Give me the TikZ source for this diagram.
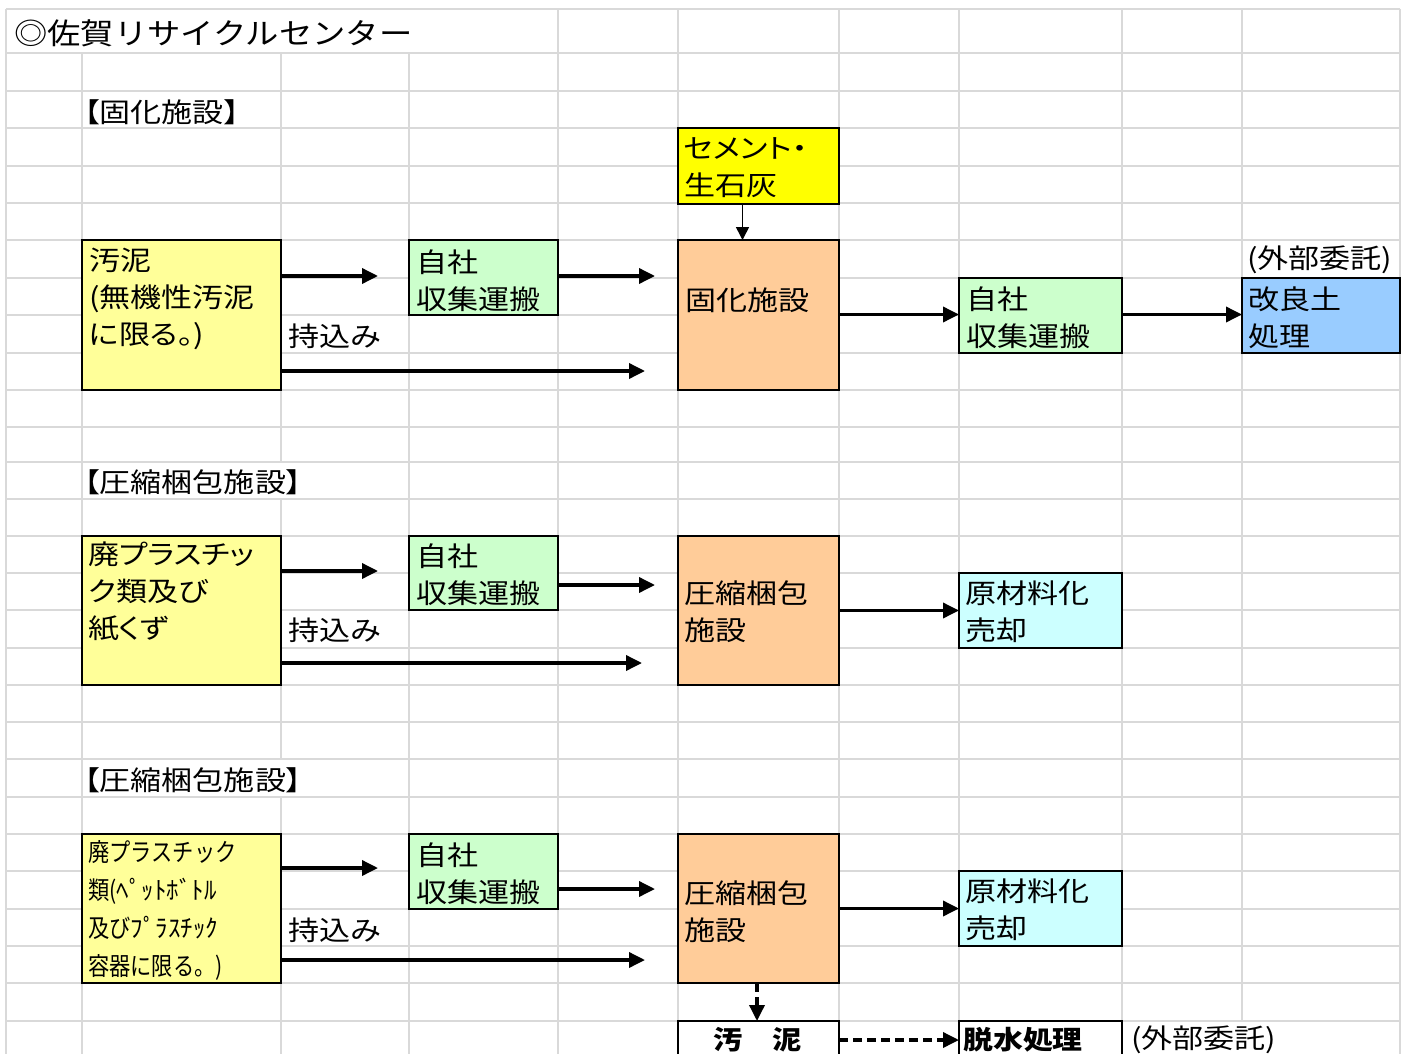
\documentclass[tikz,border=0pt]{standalone}
\usepackage{fontspec}
\setmainfont{Noto Sans CJK JP}[FakeStretch=1.13]
\newfontfamily\pfont{Noto Sans CJK JP}[FakeStretch=1.15, RawFeature=+palt]
\newfontfamily\nfont{Noto Sans CJK JP}[FakeStretch=0.85]
\newfontfamily\hfont{Noto Sans CJK JP}[FakeStretch=1.0]
\usetikzlibrary{arrows.meta}
\definecolor{gridc}{HTML}{D9D9D9}
\definecolor{lyel}{HTML}{FFFF99}
\definecolor{lgrn}{HTML}{CCFFCC}
\definecolor{yel}{HTML}{FFFF00}
\definecolor{ora}{HTML}{FFCC99}
\definecolor{blu}{HTML}{99CCFF}
\definecolor{cya}{HTML}{CCFFFF}
\begin{document}
\begin{tikzpicture}[x=1pt, y=-1pt,
  box/.style={draw=black, line width=2.5pt, anchor=north west, inner sep=0pt, outer sep=0pt},
  txt/.style={inner sep=0pt, anchor=west, align=left, font=\pfont\fontsize{27}{37}\selectfont},
  ntxt/.style={inner sep=0pt, anchor=west, align=left, font=\nfont\fontsize{25}{38}\selectfont},
  arr/.style={line width=3.5pt, -{Triangle[length=16pt,width=15pt]}},
  thinarr/.style={line width=1.6pt, -{Triangle[length=13pt,width=13pt]}},
  darr/.style={arr, dash pattern=on 9pt off 5pt},
  gridl/.style={line width=2.5pt, color=gridc}]
\useasboundingbox (0,0) rectangle (1406,1054);
\fill[white] (0,0) rectangle (1406,1054);
% grid
\foreach \y in {9,53,91,128,166,203,240,278,315,353,390,427,462,499,536,573,610,648,685,722,759,797,834,871,909,946,983,1021}
  \draw[gridl] (6,\y) -- (1400,\y);
\foreach \x in {6,558,678,839,959,1122,1400}
  \draw[gridl] (\x,9) -- (\x,1054);
\foreach \x in {82,409}
  \draw[gridl] (\x,53) -- (\x,1054);
\draw[gridl] (281,53) -- (281,462) (281,499) -- (281,759) (281,797) -- (281,1054);
\draw[gridl] (1242,9) -- (1242,1021);

% titles
\node[inner sep=0pt, anchor=west, font=\fontsize{29.5}{34}\selectfont] (title) at (14,33) {◎佐賀リサイクルセンター};
\node[txt] (sec1) at (84,112) {【固化施設】};
\node[txt] (sec2) at (84,482) {【圧縮梱包施設】};
\node[txt] (sec3) at (84,780) {【圧縮梱包施設】};

% section 1 boxes
\node[box, fill=lyel, minimum width=199, minimum height=150] (sludge1) at (82,240) {};
\node[box, fill=lgrn, minimum width=149, minimum height=75] (jisha1) at (409,240) {};
\node[box, fill=yel, minimum width=161, minimum height=76] (cement) at (678,128) {};
\node[box, fill=ora, minimum width=161, minimum height=150] (koka) at (678,240) {};
\node[box, fill=lgrn, minimum width=163, minimum height=75] (jisha1b) at (959,278) {};
\node[box, fill=blu, minimum width=158, minimum height=75] (kairyo) at (1242,278) {};

% section 2 boxes
\node[box, fill=lyel, minimum width=199, minimum height=149] (plast2) at (82,536) {};
\node[box, fill=lgrn, minimum width=149, minimum height=74] (jisha2) at (409,536) {};
\node[box, fill=ora, minimum width=161, minimum height=149] (assh2) at (678,536) {};
\node[box, fill=cya, minimum width=163, minimum height=75] (gen2) at (959,573) {};

% section 3 boxes
\node[box, fill=lyel, minimum width=199, minimum height=149] (plast3) at (82,834) {};
\node[box, fill=lgrn, minimum width=149, minimum height=75] (jisha3) at (409,834) {};
\node[box, fill=ora, minimum width=161, minimum height=149] (assh3) at (678,834) {};
\node[box, fill=cya, minimum width=163, minimum height=75] (gen3) at (959,871) {};
\node[box, fill=white, minimum width=161, minimum height=45] (osui) at (678,1021) {};
\node[box, fill=white, minimum width=163, minimum height=45] (dassui) at (959,1021) {};

% texts section 1
\node[txt] (sludge1t) at (89,298.5) {汚泥\\(無機性汚泥\\に限る。)};
\node[txt] (jisha1t) at (416,280.5) {自社\\収集運搬};
\node[txt] (cementt) at (684,167.5) {セメント・\\生石灰};
\node[txt] (kokat) at (685,300) {固化施設};
\node[txt] (jisha1bt) at (966,317.5) {自社\\収集運搬};
\node[txt] (kairyot) at (1248,318) {改良土\\処理};
\node[txt] (gaibu1) at (1247,260) {(外部委託)};
\node[txt] (mochi1) at (288,336) {持込み};

% texts section 2
\node[txt] (plast2t) at (88,592) {廃プラスチッ\\ク類及び\\紙くず};
\node[txt] (jisha2t) at (416,574.5) {自社\\収集運搬};
\node[txt] (mochi2) at (288,630) {持込み};
\node[txt] (assh2t) at (684,612) {圧縮梱包\\施設};
\node[txt] (gen2t) at (965,612) {原材料化\\売却};

% texts section 3
\node[ntxt] (plast3t) at (88,910) {廃プラスチック\\類({\hfont ﾍﾟｯﾄﾎﾞﾄﾙ}\\及び{\hfont ﾌﾟﾗｽﾁｯｸ}\\容器に限る。)};
\node[txt] (jisha3t) at (416,873.5) {自社\\収集運搬};
\node[txt] (mochi3) at (288,930) {持込み};
\node[txt] (assh3t) at (684,911.5) {圧縮梱包\\施設};
\node[txt] (gen3t) at (965,910) {原材料化\\売却};
\node[txt, anchor=center, font=\bfseries\fontsize{26}{37}\selectfont] (osuit) at (758,1040) {汚　泥};
\node[txt, font=\bfseries\pfont\fontsize{26}{37}\selectfont] (dassuit) at (963,1040) {脱水処理};
\node[txt] (gaibu2) at (1131,1040) {(外部委託)};

% free arrow ends
\coordinate (c1) at (378,276);
\coordinate (c2) at (655,276);
\coordinate (c3) at (645,371);
\coordinate (c4) at (378,571);
\coordinate (c5) at (655,585);
\coordinate (c6) at (642,663);
\coordinate (c7) at (378,868);
\coordinate (c8) at (655,889);
\coordinate (c9) at (645,960);

% arrows section 1
\draw[arr] (sludge1.east |- c1) -- (c1);
\draw[arr] (jisha1.east |- c2) -- (c2);
\draw[arr] (sludge1.east |- c3) -- (c3);
\draw[thinarr] ([xshift=-16pt]cement.south) -- ([xshift=-16pt]koka.north);
\draw[arr] ([yshift=1pt]koka.east |- jisha1b.west) -- ([yshift=1pt]jisha1b.west);
\draw[arr] ([yshift=1pt]jisha1b.east) -- ([yshift=1pt]kairyo.west);

% arrows section 2
\draw[arr] (plast2.east |- c4) -- (c4);
\draw[arr] (jisha2.east |- c5) -- (c5);
\draw[arr] (plast2.east |- c6) -- (c6);
\draw[arr] (assh2.east |- gen2.west) -- (gen2.west);

% arrows section 3
\draw[arr] (plast3.east |- c7) -- (c7);
\draw[arr] (jisha3.east |- c8) -- (c8);
\draw[arr] (plast3.east |- c9) -- (c9);
\draw[arr] (assh3.east |- gen3.west) -- (gen3.west);
\draw[darr] ([xshift=-1.5pt]assh3.south) -- ([xshift=-1.5pt]osui.north);
\draw[darr] (osui.east |- osuit) -- (dassui.west |- osuit);
\end{tikzpicture}
\end{document}
